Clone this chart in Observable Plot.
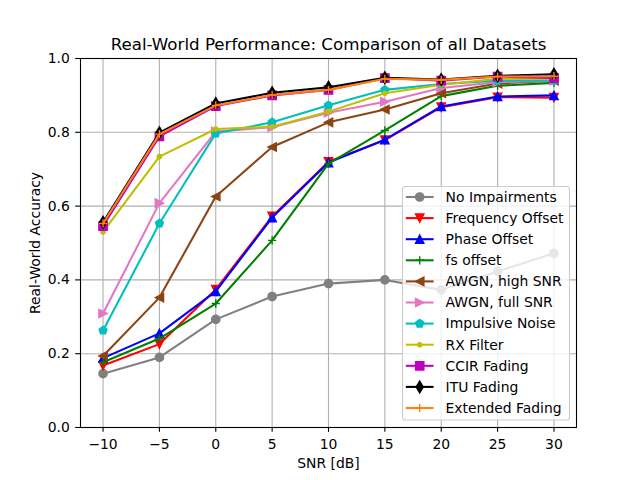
<!DOCTYPE html>
<html><head><meta charset="utf-8">
<script src="https://cdn.jsdelivr.net/npm/d3@7"></script>
<script src="https://cdn.jsdelivr.net/npm/@observablehq/plot@0.6"></script>
<style>body{margin:0;background:#fff} #wrap{position:relative;width:640px;height:480px}</style>
</head><body><div id="wrap"></div>
<script>
const snr = [-10, -5, 0, 5, 10, 15, 20, 25, 30];
const yTicks = [0, 0.2, 0.4, 0.6, 0.8, 1.0];

const noImpairments   = [0.146, 0.190, 0.293, 0.355, 0.390, 0.400, 0.373, 0.423, 0.472];
const frequencyOffset = [0.168, 0.226, 0.374, 0.572, 0.720, 0.779, 0.868, 0.895, 0.894];
const phaseOffset     = [0.188, 0.255, 0.369, 0.569, 0.718, 0.780, 0.870, 0.897, 0.900];
const fsOffset        = [0.177, 0.241, 0.336, 0.507, 0.715, 0.805, 0.898, 0.926, 0.934];
const awgnHigh        = [0.194, 0.352, 0.626, 0.760, 0.827, 0.862, 0.906, 0.932, 0.940];
const awgnFull        = [0.309, 0.608, 0.802, 0.814, 0.853, 0.883, 0.920, 0.936, 0.940];
const impulsiveNoise  = [0.263, 0.553, 0.797, 0.827, 0.873, 0.915, 0.931, 0.940, 0.940];
const rxFilter        = [0.530, 0.734, 0.809, 0.815, 0.856, 0.906, 0.929, 0.945, 0.945];
const ccirFading      = [0.546, 0.789, 0.871, 0.900, 0.915, 0.947, 0.940, 0.951, 0.947];
const ituFading       = [0.556, 0.799, 0.878, 0.907, 0.922, 0.948, 0.943, 0.953, 0.957];
const extendedFading  = [0.553, 0.795, 0.873, 0.901, 0.915, 0.945, 0.942, 0.951, 0.952];

const seriesNames = ["No Impairments", "Frequency Offset", "Phase Offset", "fs offset",
  "AWGN, high SNR", "AWGN, full SNR", "Impulsive Noise", "RX Filter",
  "CCIR Fading", "ITU Fading", "Extended Fading"];
const seriesValues = [noImpairments, frequencyOffset, phaseOffset, fsOffset, awgnHigh,
  awgnFull, impulsiveNoise, rxFilter, ccirFading, ituFading, extendedFading];
const seriesColors = ["#808080", "#ff0000", "#0000ff", "#008000", "#8b4513", "#e377c2",
  "#00bfbf", "#bfbf00", "#bf00bf", "#000000", "#ff7f0e"];
const seriesMarkers = ["o", "v", "^", "+", "<", ">", "p", ".", "s", "d", "+"];

function rad(size) { return Math.sqrt(size / Math.PI); }
function poly(pts) {
  return { draw(c, s) { const r = rad(s);
    pts.forEach(([x, y], i) => i ? c.lineTo(x * r, y * r) : c.moveTo(x * r, y * r));
    c.closePath(); } };
}
const pent = d3.range(5).map(k => { const a = (-90 + k * 72) * Math.PI / 180; return [Math.cos(a), Math.sin(a)]; });
const sym = {
  "o": { draw(c, s) { const r = rad(s); c.moveTo(r, 0); c.arc(0, 0, r, 0, 2 * Math.PI); } },
  ".": { draw(c, s) { const r = rad(s) / 2; c.moveTo(r, 0); c.arc(0, 0, r, 0, 2 * Math.PI); } },
  "^": poly([[0, -1], [-1, 1], [1, 1]]),
  "v": poly([[0, 1], [-1, -1], [1, -1]]),
  "<": poly([[-1, 0], [1, -1], [1, 1]]),
  ">": poly([[1, 0], [-1, -1], [-1, 1]]),
  "s": poly([[-1, -1], [1, -1], [1, 1], [-1, 1]]),
  "d": poly([[0, -1.414], [0.849, 0], [0, 1.414], [-0.849, 0]]),
  "p": poly(pent),
  "+": { draw(c, s) { const r = rad(s); c.moveTo(-r, 0); c.lineTo(r, 0); c.moveTo(0, -r); c.lineTo(0, r); } }
};
const MR = 4.17, LW = 2.08, MEW = 1.39, FS = 13.9;

const marks = [
  Plot.gridX(snr, { stroke: "#b0b0b0", strokeOpacity: 1, strokeWidth: 1.1 }),
  Plot.gridY(yTicks, { stroke: "#b0b0b0", strokeOpacity: 1, strokeWidth: 1.1 })
];
seriesNames.forEach((name, i) => {
  const rows = snr.map((x, j) => ({ snr: x, acc: seriesValues[i][j] }));
  const m = seriesMarkers[i];
  marks.push(Plot.line(rows, { x: "snr", y: "acc", stroke: seriesColors[i], strokeWidth: LW }));
  marks.push(Plot.dot(rows, { x: "snr", y: "acc", r: MR, symbol: sym[m],
    fill: m === "+" ? "none" : seriesColors[i], stroke: seriesColors[i], strokeWidth: MEW }));
});
marks.push(
  Plot.frame({ stroke: "black", strokeWidth: 1.1 }),
  Plot.axisX({ ticks: snr, tickSize: 4.86, tickPadding: 7, strokeWidth: 1.1, label: null, fontSize: FS }),
  Plot.axisY({ ticks: yTicks, tickSize: 4.86, tickPadding: 5.8, strokeWidth: 1.1, label: null, fontSize: FS, tickFormat: d3.format(".1f") }),
  Plot.text(["Real-World Performance: Comparison of all Datasets"], { text: d => d, frameAnchor: "top", textAnchor: "middle", lineAnchor: "middle", dy: -14.3, fontSize: 16.67 }),
  Plot.text(["SNR [dB]"], { text: d => d, frameAnchor: "bottom", textAnchor: "middle", lineAnchor: "middle", dy: 36, fontSize: FS }),
  Plot.text(["Real-World Accuracy"], { text: d => d, frameAnchor: "left", textAnchor: "middle", lineAnchor: "middle", rotate: -90, dx: -45, fontSize: FS })
);

const chart = Plot.plot({
  width: 640, height: 480,
  marginLeft: 80, marginRight: 64, marginTop: 58, marginBottom: 53,
  x: { domain: [-12, 32], axis: null },
  y: { domain: [0, 1], axis: null },
  style: { fontFamily: "DejaVu Sans", fontSize: "13.9px", color: "black", background: "white", overflow: "visible" },
  marks
});
document.getElementById("wrap").appendChild(chart);

// Legend (lower right, matplotlib style)
const leg = d3.select("#wrap").append("svg")
  .style("position", "absolute").style("left", "401.7px").style("top", "186px")
  .attr("width", 168).attr("height", 235)
  .style("font-family", "DejaVu Sans").style("font-size", "13.9px");
leg.append("rect").attr("x", 0.5).attr("y", 0.5).attr("width", 167).attr("height", 233.5)
  .attr("rx", 2.8).attr("fill", "white").attr("fill-opacity", 0.8)
  .attr("stroke", "#cccccc").attr("stroke-width", 1.1);
seriesNames.forEach((name, i) => {
  const cy = 11 + i * 21.1, m = seriesMarkers[i], col = seriesColors[i];
  const g = leg.append("g");
  g.append("line").attr("x1", 3.8).attr("x2", 31.6).attr("y1", cy).attr("y2", cy)
    .attr("stroke", col).attr("stroke-width", LW);
  const p = d3.path(); sym[m].draw(p, MR * MR * Math.PI);
  g.append("path").attr("d", p.toString()).attr("transform", `translate(17.7,${cy})`)
    .attr("fill", m === "+" ? "none" : col).attr("stroke", col).attr("stroke-width", MEW);
  g.append("text").attr("x", 43.6).attr("y", cy).attr("dy", "0.35em").attr("fill", "black").text(name);
});
</script></body></html>
